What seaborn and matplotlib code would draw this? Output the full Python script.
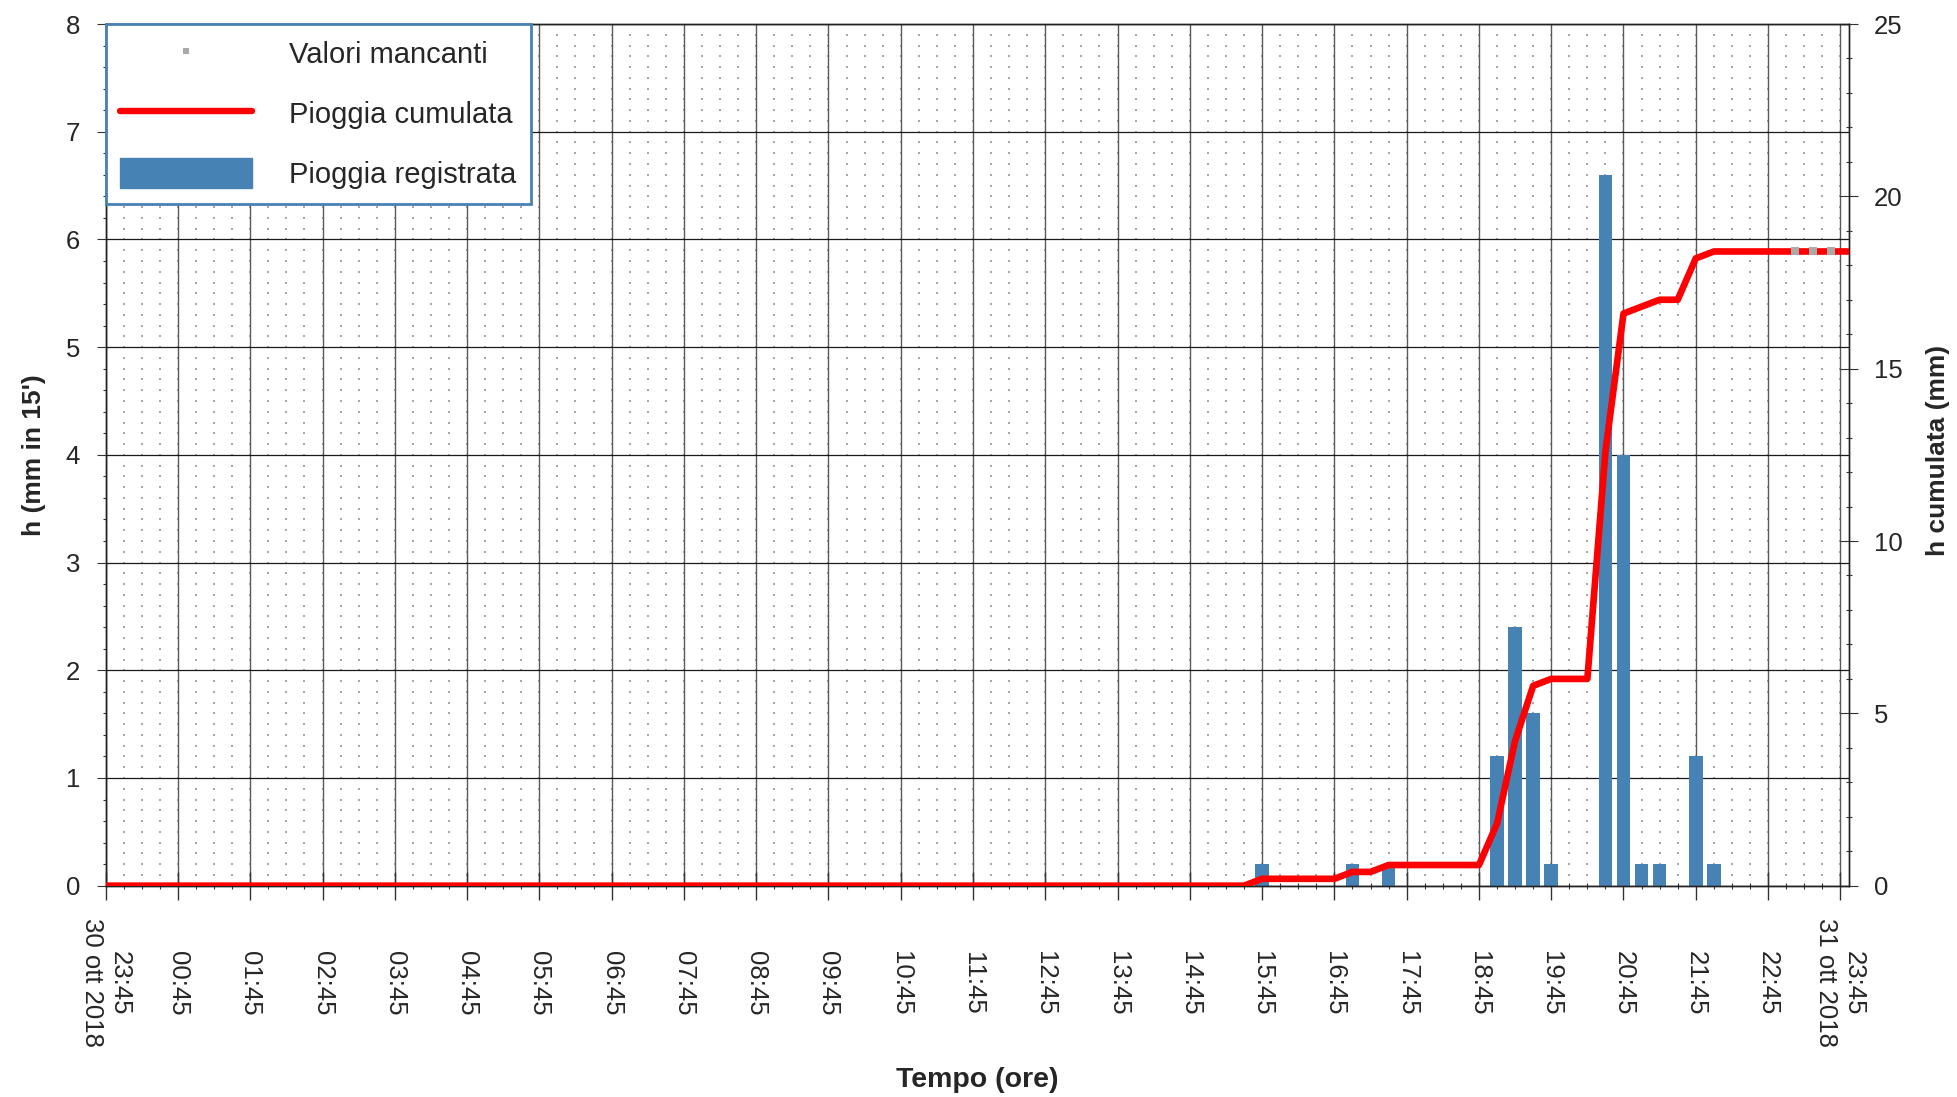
import numpy as np
import pandas as pd
import matplotlib
matplotlib.use("Agg")
import matplotlib.pyplot as plt
from matplotlib.lines import Line2D
from matplotlib.patches import Patch
from matplotlib.ticker import MultipleLocator
import seaborn as sns

# ---------------- data ----------------
# 15-minute rainfall (end time of each 15' slot on 31 ott 2018), mm
rain_slot_end = ["15:45", "17:00", "17:30", "19:00", "19:15", "19:30", "19:45",
                 "20:30", "20:45", "21:00", "21:15", "21:45", "22:00"]
rain_mm = [0.2, 0.2, 0.2, 1.2, 2.4, 1.6, 0.2, 6.6, 4.0, 0.2, 0.2, 1.2, 0.2]

# slots flagged as missing values (end time of the slot)
missing_slot_end = ["23:15", "23:30", "23:45"]

# x tick labels (one per hour, from 30 ott 23:45 to 31 ott 23:45)
tick_labels = ["23:45\n30 ott 2018", "00:45", "01:45", "02:45", "03:45", "04:45",
               "05:45", "06:45", "07:45", "08:45", "09:45", "10:45", "11:45",
               "12:45", "13:45", "14:45", "15:45", "16:45", "17:45", "18:45",
               "19:45", "20:45", "21:45", "22:45", "23:45\n31 ott 2018"]

legend_labels = ["Valori mancanti", "Pioggia cumulata", "Pioggia registrata"]
xlabel = "Tempo (ore)"
ylabel_left = "h (mm in 15')"
ylabel_right = "h cumulata (mm)"


def slot_hours(hhmm):
    """hours elapsed since 30 ott 23:45 at the end of the given 31 ott slot"""
    h, m = map(int, hhmm.split(":"))
    return (h * 60 + m + 15) / 60.0


# full 15' series (96 slots)
n_slots = 96
x_slots = np.arange(1, n_slots + 1) * 0.25
mm_full = np.zeros(n_slots)
for t, v in zip(rain_slot_end, rain_mm):
    mm_full[int(round(slot_hours(t) / 0.25)) - 1] = v
df_bars = pd.DataFrame({"x": x_slots, "mm": mm_full})

XMAX = 24.12
cum = np.concatenate([[0.0], np.cumsum(mm_full)])
df_cum = pd.DataFrame({"x": np.concatenate([[0.0], x_slots, [XMAX]]),
                       "cum": np.concatenate([cum, [cum[-1]]])})

miss_x = np.array([slot_hours(t) - 0.125 for t in missing_slot_end])
miss_y = np.array([cum[int(round(slot_hours(t) / 0.25))] for t in missing_slot_end])
df_miss = pd.DataFrame({"x": miss_x, "y": miss_y})

# ---------------- style ----------------
sns.set_theme(style="ticks")
plt.rcParams["font.family"] = ["Liberation Sans", "DejaVu Sans"]
plt.rcParams["axes.linewidth"] = 1.0

BAR_C = "#4682B4"
W, H = 1957, 1097
fig = plt.figure(figsize=(W / 100, H / 100), dpi=100)
L, R, T, B = 105.7, 1849.0, 24.0, 885.7
ax = fig.add_axes([L / W, 1 - B / H, (R - L) / W, (B - T) / H])

# background dot pattern
gx, gy = np.meshgrid(np.arange(0, 24.2, 0.25), np.arange(0.1, 8.0, 0.1))
ax.scatter(gx.ravel(), gy.ravel(), s=0.9, marker="s", color="#a8a8a8",
           linewidths=0, zorder=0.4)

# bars
sns.barplot(data=df_bars, x="x", y="mm", native_scale=True, ax=ax,
            color=BAR_C, saturation=1, width=0.75, errorbar=None,
            linewidth=0, zorder=2)

ax.set_xlim(0, XMAX)
ax.set_ylim(0, 8)
ax.set_axisbelow(True)

ax.xaxis.set_major_locator(MultipleLocator(1))
ax.xaxis.set_minor_locator(MultipleLocator(0.25))
ax.set_xticks(np.arange(0, 25, 1))
ax.set_xticklabels(tick_labels)
ax.yaxis.set_major_locator(MultipleLocator(1))
ax.yaxis.set_minor_locator(MultipleLocator(0.2))

ax.grid(which="major", axis="x", color="#5a5a5a", linewidth=1.0)
ax.grid(which="major", axis="y", color="#1a1a1a", linewidth=0.9)

ax.tick_params(axis="x", which="major", direction="inout", length=20, width=1,
               color="#333333", labelsize=18.5, pad=60, labelrotation=-90)
ax.tick_params(axis="x", which="minor", direction="inout", length=5, width=0.8,
               color="#333333")
ax.tick_params(axis="y", which="major", direction="out", length=6.5, width=0.8,
               color="#333333", labelsize=18.5, pad=12)
ax.tick_params(axis="y", which="minor", direction="out", length=2.2, width=0.8,
               color="#333333")
for lab in ax.get_xticklabels():
    lab.set_va("center")
    lab.set_ha("center")
    lab.set_multialignment("center")

for s in ax.spines.values():
    s.set_color("#222222")
    s.set_linewidth(1.0)

# cumulative line on right axis
ax2 = ax.twinx()
sns.lineplot(data=df_cum, x="x", y="cum", ax=ax2, color="#ff0000",
             linewidth=4.8, estimator=None, sort=False, zorder=3)
ax2.plot(df_miss["x"], df_miss["y"], linestyle="none", marker="s",
         markersize=5.4, markeredgewidth=0, color="#aaaaaa", zorder=4)
ax2.set_ylim(0, 25)
ax2.set_xlim(0, XMAX)
ax2.yaxis.set_major_locator(MultipleLocator(5))
ax2.yaxis.set_minor_locator(MultipleLocator(1))
ax2.tick_params(axis="y", which="major", direction="inout", length=13, width=0.8,
                color="#333333", labelsize=18.5, pad=11.5)
ax2.tick_params(axis="y", which="minor", direction="inout", length=5, width=0.8,
                color="#333333")
for s in ax2.spines.values():
    s.set_color("#222222")
    s.set_linewidth(1.0)

# axis labels
ax.set_xlabel(xlabel, fontsize=20.5, fontweight="bold")
ax.xaxis.set_label_coords(0.5, -0.2255)
ax.xaxis.label.set_va("center")
ax.set_ylabel(ylabel_left, fontsize=19, fontweight="bold")
ax.yaxis.set_label_coords(-0.041, 0.5)
ax.yaxis.label.set_va("center")
ax.yaxis.label.set_ha("center")
ax2.set_ylabel(ylabel_right, fontsize=19, fontweight="bold", rotation=90)
ax2.yaxis.set_label_coords(1.0508, 0.505)
ax2.yaxis.label.set_va("center")
ax2.yaxis.label.set_ha("center")

# legend
handles = [
    Line2D([], [], linestyle="none", marker="s", markersize=5,
           markeredgewidth=0, color="#aaaaaa"),
    Line2D([], [], color="#ff0000", linewidth=4.6),
    Patch(facecolor=BAR_C, edgecolor=BAR_C),
]
leg = ax2.legend(handles, legend_labels, loc="upper left",
                 bbox_to_anchor=(0, 1), borderaxespad=0, fontsize=21,
                 handlelength=4.5, handleheight=1.2, handletextpad=1.3,
                 labelspacing=1.0, borderpad=0.5, fancybox=False,
                 framealpha=1, edgecolor=BAR_C, facecolor="white")
leg.get_frame().set_linewidth(2.0)
leg.set_zorder(10)

fig.savefig("out.png", dpi=100)
